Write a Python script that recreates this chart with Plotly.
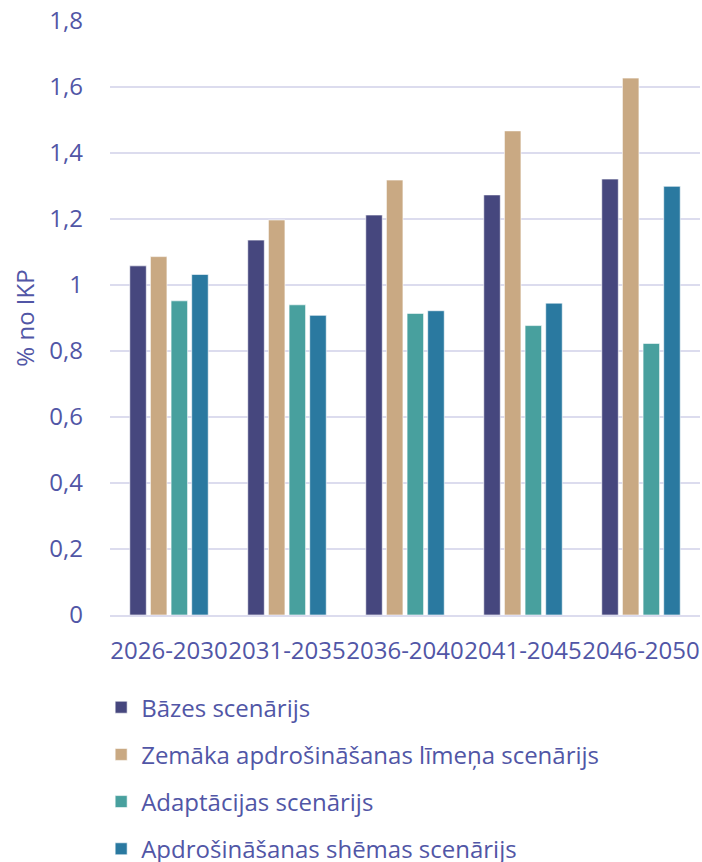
import plotly.graph_objects as go

categories = ["2026-2030", "2031-2035", "2036-2040", "2041-2045", "2046-2050"]
bazes = [1.058, 1.136, 1.212, 1.273, 1.321]
zemaka = [1.086, 1.197, 1.318, 1.467, 1.627]
adapt = [0.952, 0.940, 0.914, 0.877, 0.823]
apdr = [1.032, 0.908, 0.922, 0.945, 1.299]
series_names = [
    "Bāzes scenārijs",
    "Zemāka apdrošināšanas līmeņa scenārijs",
    "Adaptācijas scenārijs",
    "Apdrošināšanas shēmas scenārijs",
]
colors = ["#46477E", "#C9A983", "#48A09E", "#2A79A0"]
tick_vals = [0, 0.2, 0.4, 0.6, 0.8, 1.0, 1.2, 1.4, 1.6, 1.8]
tick_text = ["0", "0,2", "0,4", "0,6", "0,8", "1", "1,2", "1,4", "1,6", "1,8"]

text_color = "#5156A6"
grid_color = "#DCDCEE"
font_family = "Open Sans"

fig = go.Figure()
for name, vals, col in zip(series_names, [bazes, zemaka, adapt, apdr], colors):
    fig.add_trace(go.Bar(
        x=categories, y=vals, name=name, legendgroup=name,
        marker=dict(color=col, line=dict(color="rgba(255,255,255,0.6)", width=1)),
    ))

fig.update_layout(
    width=702, height=862,
    margin=dict(l=110, r=2, t=21, b=247, autoexpand=False),
    paper_bgcolor="white", plot_bgcolor="white",
    barmode="group", bargap=0.3, bargroupgap=0.2,
    font=dict(family=font_family, color=text_color, size=24),
    showlegend=True,
    legend=dict(
        orientation="v", x=-0.015, xanchor="left", y=-0.118, yanchor="top",
        font=dict(size=24, color=text_color), tracegroupgap=13,
        bgcolor="rgba(0,0,0,0)",
    ),
    xaxis=dict(
        showgrid=False, showline=True, linecolor=grid_color, linewidth=2,
        tickfont=dict(size=24, color=text_color), ticks="", tickangle=0,
        automargin=False, ticklabelstandoff=13,
    ),
    yaxis=dict(
        range=[0, 1.8], tickvals=tick_vals, ticktext=tick_text,
        showgrid=True, gridcolor=grid_color, gridwidth=2,
        zeroline=False, showline=False,
        tickfont=dict(size=24, color=text_color),
        ticklabelstandoff=26, automargin=False,
        title=dict(text="% no IKP", font=dict(size=24, color=text_color), standoff=7),
    ),
)

fig.write_html("out.html")
